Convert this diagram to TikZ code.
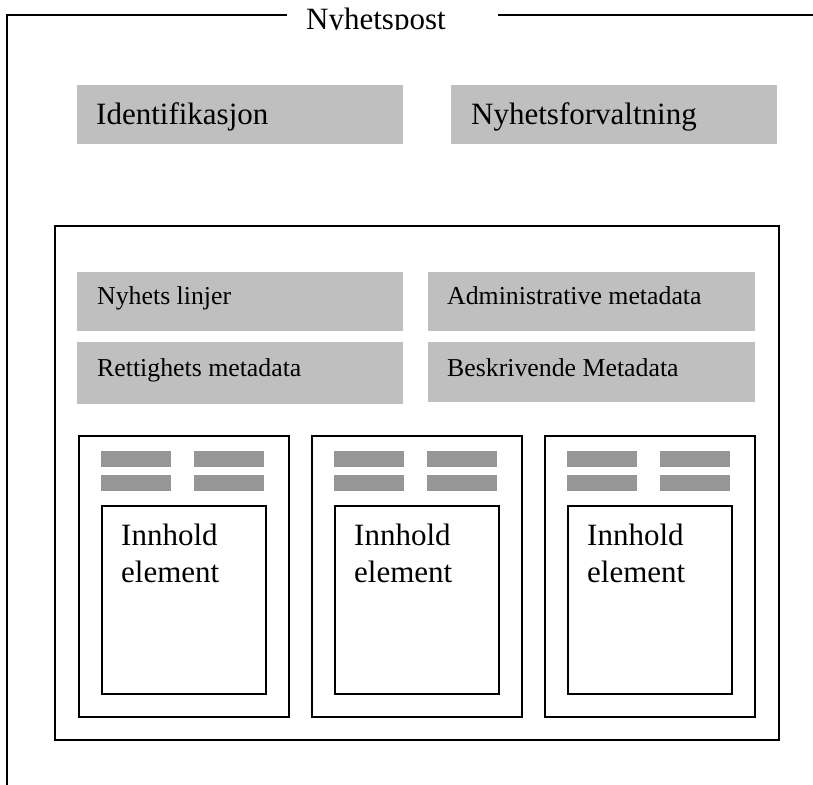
\documentclass[tikz,border=0pt]{standalone}
\usepackage{fontspec}
\setmainfont{Liberation Serif}
\definecolor{blockgray}{RGB}{191,191,191}
\definecolor{bargray}{RGB}{150,150,150}
\tikzset{
  frameline/.style={draw=black, line width=1.7pt},
  blockbox/.style={fill=blockgray, draw=none, inner sep=0pt, anchor=north west},
  barbox/.style={fill=bargray, draw=none, inner sep=0pt, anchor=north west,
                 minimum width=70pt, minimum height=15.5pt},
  bigtext/.style={anchor=base west, inner sep=0pt, font=\fontsize{31}{37}\selectfont},
  midtext/.style={anchor=base west, inner sep=0pt, font=\fontsize{25.8}{30}\selectfont},
}
\begin{document}
\begin{tikzpicture}[x=1pt,y=-1pt]
\useasboundingbox (0,0) rectangle (813,784);
\clip (0,0) rectangle (813,784);

% outer record frame, open on the right and bottom
\coordinate (oleft) at (287,15);
\coordinate (ocorner) at (7,15);
\coordinate (obottom) at (7,800);
\coordinate (oright) at (498,15);
\coordinate (oend) at (830,15);
\draw[frameline, line width=1.9pt] (oleft) -- (ocorner) -- (obottom);
\draw[frameline, line width=1.9pt] (oright) -- (oend);
\begin{scope}
  \clip (280,0) rectangle (500,29.5);
  \node[bigtext] (title) at (306,29.5) {Nyhetspost};
\end{scope}

% top-level blocks
\node[blockbox, minimum width=326pt, minimum height=59pt] (ident) at (77,85) {};
\node[bigtext] (identtxt) at (96,124) {Identifikasjon};
\node[blockbox, minimum width=326pt, minimum height=59pt] (forv) at (451,85) {};
\node[bigtext] (forvtxt) at (471,124) {Nyhetsforvaltning};

% inner content frame
\node[frameline, inner sep=0pt, anchor=north west, minimum width=724pt, minimum height=514pt] (inner) at (54,225) {};

% metadata blocks
\node[blockbox, minimum width=326pt, minimum height=59pt] (linjer) at (77,272) {};
\node[midtext] (linjertxt) at (97,304.5) {Nyhets linjer};
\node[blockbox, minimum width=327pt, minimum height=59pt] (admin) at (428,272) {};
\node[midtext] (admintxt) at (447,304.5) {Administrative metadata};
\node[blockbox, minimum width=326pt, minimum height=62pt] (rett) at (77,342) {};
\node[midtext] (retttxt) at (97,376) {Rettighets metadata};
\node[blockbox, minimum width=327pt, minimum height=60pt] (beskr) at (428,342) {};
\node[midtext] (beskrtxt) at (447,376) {Beskrivende Metadata};

% content element columns
\foreach \i/\dx in {1/0, 2/233, 3/466} {
  \node[frameline, inner sep=0pt, anchor=north west, minimum width=210pt, minimum height=281pt]
    (col\i) at (78+\dx,435) {};
  \node[barbox] (bar\i a) at (101+\dx,451) {};
  \node[barbox] (bar\i b) at (194+\dx,451) {};
  \node[barbox] (bar\i c) at (101+\dx,475) {};
  \node[barbox] (bar\i d) at (194+\dx,475) {};
  \node[frameline, inner sep=0pt, anchor=north west, minimum width=164pt, minimum height=188pt]
    (elem\i) at (101+\dx,505) {};
  \node[bigtext] (elemtxt\i a) at (121+\dx,545) {Innhold};
  \node[bigtext] (elemtxt\i b) at (121+\dx,582) {element};
}
\end{tikzpicture}
\end{document}
